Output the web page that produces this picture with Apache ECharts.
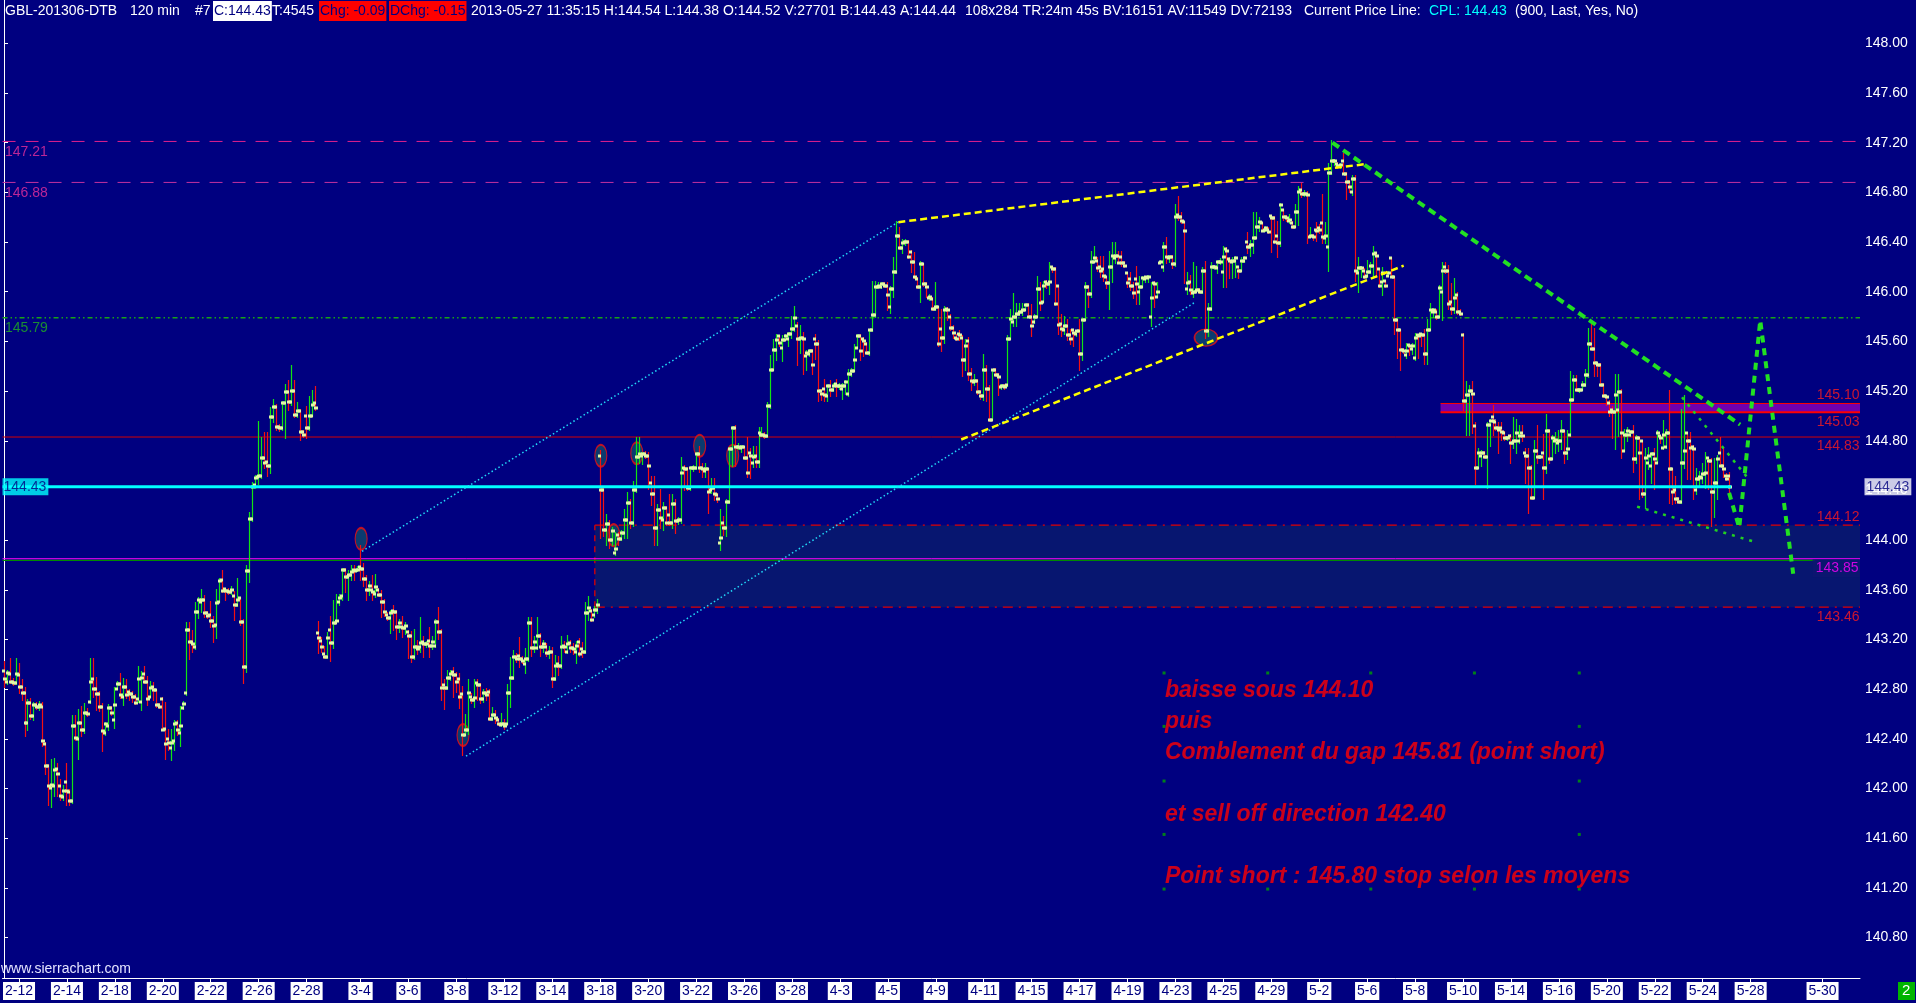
<!DOCTYPE html>
<html><head><meta charset="utf-8">
<script src="https://cdn.jsdelivr.net/npm/echarts@6/dist/echarts.min.js"></script>
<style>html,body{margin:0;padding:0;background:#000080;overflow:hidden}#c{width:1916px;height:1003px}</style>
</head><body><div id="c"></div>
<script>
// ---- price bars: [open, close, low, high], one per 120-min slot ----
const barsFebruary = [
[142.95,142.88,142.82,143.02],[142.86,142.93,142.84,142.95],[142.92,142.86,142.85,143.04],[142.86,142.85,142.83,142.88],
[142.85,142.92,142.84,143.04],[142.91,142.82,142.77,143.00],[142.82,142.77,142.71,142.87],[142.77,142.53,142.42,142.81],
[142.53,142.69,142.47,142.71],[142.69,142.58,142.56,142.72],[142.58,142.67,142.55,142.69],[142.67,142.66,142.64,142.69],
[142.66,142.67,142.63,142.70],[142.66,142.38,142.34,142.69],[142.36,142.18,142.12,142.37],[142.18,142.02,141.87,142.19],
[142.00,142.03,141.85,142.23],[142.02,142.15,141.94,142.24],[142.16,142.12,141.94,142.20],[142.02,141.94,141.91,142.07],
[141.93,141.98,141.91,142.02],[142.05,141.98,141.87,142.20],[141.97,141.90,141.87,141.99],[141.90,142.50,141.88,142.58],
[142.50,142.41,142.39,142.58],[142.40,142.53,142.24,142.63],[142.53,142.47,142.42,142.66],[142.47,142.61,142.45,142.68],
[142.61,142.60,142.58,142.64],[142.70,142.86,142.69,143.04],[142.88,142.80,142.74,143.04],[142.80,142.76,142.63,142.89],
[142.76,142.66,142.62,142.78],[142.66,142.46,142.30,142.68],[142.45,142.52,142.43,142.53],[142.50,142.65,142.47,142.67],
[142.65,142.61,142.59,142.66],[142.55,142.67,142.49,142.81],[142.80,142.84,142.80,142.86],[142.84,142.75,142.73,142.92],
[142.74,142.82,142.67,142.88],[142.82,142.75,142.73,142.87],[142.78,142.76,142.71,142.79],[142.76,142.74,142.70,142.78],
[142.74,142.69,142.68,142.75],[142.72,142.88,142.70,142.98],[142.70,142.89,142.63,142.94],[142.92,142.86,142.85,142.98],
[142.86,142.72,142.67,142.90],[142.74,142.81,142.74,142.86],[142.82,142.79,142.71,142.85],[142.79,142.67,142.66,142.79],
[142.67,142.66,142.65,142.68],[142.72,142.47,142.47,142.73],[142.48,142.36,142.24,142.69],[142.40,142.37,142.31,142.47],
[142.33,142.37,142.23,142.47],[142.38,142.52,142.31,142.54],[142.53,142.47,142.43,142.54],[142.45,142.50,142.34,142.66],
[142.65,142.68,142.64,142.70],[142.77,143.28,142.75,143.33],[143.28,143.18,143.04,143.33],[143.18,143.16,143.10,143.27],
[143.14,143.42,143.12,143.49],[143.42,143.52,143.37,143.53],[143.50,143.52,143.42,143.60],[143.52,143.41,143.38,143.55],
[143.41,143.39,143.37,143.42],[143.40,143.35,143.30,143.50],[143.35,143.31,143.18,143.38],[143.32,143.49,143.21,143.60],
[143.50,143.67,143.50,143.69],[143.68,143.59,143.58,143.75],[143.61,143.59,143.52,143.61],[143.59,143.58,143.57,143.61],
[143.58,143.60,143.57,143.62],[143.55,143.48,143.36,143.58],[143.48,143.52,143.47,143.69],[143.53,143.34,143.32,143.53],
[143.34,142.98,142.85,143.36],[142.98,143.75,142.94,143.79],
[143.75,144.17,143.66,144.22],[144.17,144.43,144.15,144.46],[144.44,144.50,144.42,144.52],[144.51,144.52,144.45,144.95],
[144.52,144.66,144.50,144.82],[144.66,144.62,144.58,144.86],[144.63,144.60,144.52,144.86],[144.60,144.99,144.54,145.06],
[144.99,145.07,144.95,145.13],[145.07,144.91,144.89,145.09],[144.91,144.90,144.88,144.93],[144.90,145.10,144.89,145.11],
[145.10,145.19,144.82,145.25],[145.19,145.11,145.05,145.28],[145.11,145.20,145.09,145.40],[145.20,145.01,144.99,145.28],
[145.01,145.04,144.99,145.10],[145.04,144.87,144.81,145.05],[144.87,144.85,144.83,144.88],[145.00,144.90,144.82,145.07],
[144.90,145.00,144.89,145.15],[145.00,145.09,145.00,145.20],[145.10,145.06,145.05,145.23]
];
const barsEarlyMarch = [
[143.25,143.21,143.09,143.34],[143.19,143.14,143.10,143.21],[143.08,143.06,143.05,143.14],[143.06,143.21,143.05,143.25],
[143.28,143.17,143.03,143.38],[143.17,143.33,143.13,143.51],[143.33,143.35,143.33,143.56],[143.50,143.53,143.48,143.56],
[143.55,143.76,143.52,143.77],[143.76,143.70,143.58,143.77],[143.70,143.72,143.52,143.75],[143.72,143.74,143.68,143.79],
[143.76,143.75,143.68,143.79],[143.76,143.76,143.75,143.78],[143.78,143.77,143.68,143.95],[143.77,143.69,143.63,143.81],
[143.69,143.60,143.52,143.71],[143.60,143.63,143.56,143.66],[143.60,143.58,143.52,143.71],[143.57,143.62,143.54,143.72],
[143.60,143.56,143.55,143.61],[143.56,143.50,143.38,143.59],[143.50,143.42,143.39,143.52],[143.40,143.37,143.36,143.41],
[143.37,143.41,143.25,143.43],[143.43,143.42,143.28,143.47],[143.42,143.30,143.20,143.43],[143.30,143.33,143.26,143.36],
[143.30,143.29,143.22,143.38],[143.29,143.31,143.24,143.33],[143.26,143.23,143.05,143.27],[143.23,143.06,143.02,143.26],
[143.06,143.14,143.04,143.28],[143.14,143.12,143.08,143.19],[143.14,143.17,143.10,143.37],[143.18,143.16,143.06,143.22],
[143.16,143.16,143.14,143.18],[143.19,143.15,143.06,143.29],[143.15,143.18,143.12,143.22],[143.15,143.34,143.14,143.36],
[143.34,143.26,143.20,143.45],[143.26,142.81,142.71,143.28],[142.83,142.81,142.64,142.87],[142.81,142.89,142.80,142.95],
[142.89,142.92,142.87,142.95],[142.94,142.91,142.74,142.97],[142.91,142.86,142.78,142.93],[142.88,142.74,142.65,142.92],
[142.76,142.43,142.27,142.82],[142.43,142.47,142.43,142.59],[142.47,142.77,142.44,142.87],[142.74,142.71,142.69,142.76],
[142.71,142.73,142.66,142.87],[142.85,142.83,142.71,142.87],[142.83,142.72,142.69,142.84],[142.72,142.77,142.70,142.79],
[142.77,142.75,142.71,142.80],[142.78,142.56,142.55,142.79],[142.56,142.59,142.55,142.65],[142.59,142.57,142.53,142.62],
[142.55,142.52,142.51,142.56],[142.51,142.52,142.50,142.60],[142.52,142.50,142.48,142.55],[142.52,142.77,142.52,142.83],
[142.77,142.89,142.66,143.05],[142.89,143.06,142.88,143.11],[143.06,143.04,143.02,143.08],[143.07,143.04,142.98,143.21],
[143.04,143.03,143.01,143.06],[143.00,143.04,142.93,143.12],[143.04,143.33,143.03,143.37],[143.33,143.13,143.07,143.37],
[143.13,143.18,143.10,143.22],[143.13,143.23,143.12,143.37],[143.23,143.14,143.07,143.24],[143.14,143.16,143.10,143.19],
[143.14,143.09,143.07,143.16],[143.09,143.10,143.05,143.14],[143.10,142.88,142.82,143.13],[142.88,142.99,142.87,143.07],
[143.00,142.99,142.91,143.06],[142.99,143.14,142.97,143.22],[143.15,143.14,143.10,143.18],[143.10,143.16,143.09,143.23],
[143.17,143.13,143.10,143.19],[143.13,143.12,143.08,143.16],[143.10,143.15,143.01,143.18],[143.18,143.08,143.07,143.20],
[143.12,143.10,143.06,143.17],[143.10,143.41,143.09,143.49],[143.41,143.45,143.36,143.54],[143.43,143.36,143.35,143.44],
[143.40,143.44,143.38,143.46],[143.44,143.48,143.41,143.52]
];
const barsLateMarch = [
[144.68,144.40,144.02,144.72],[144.40,144.08,144.03,144.42],[144.08,144.13,143.96,144.20],[144.13,144.00,143.94,144.15],
[144.00,144.07,143.96,144.10],[143.90,143.93,143.88,144.06],[144.04,144.01,143.96,144.06],[144.01,144.06,144.00,144.07],
[144.06,144.16,144.02,144.24],[144.16,144.30,144.02,144.38],[144.30,144.14,144.10,144.32],[144.14,144.40,144.11,144.47],
[144.40,144.67,144.39,144.82],[144.67,144.69,144.62,144.82],[144.68,144.69,144.61,144.70],[144.69,144.68,144.66,144.71],
[144.68,144.60,144.41,144.70],[144.46,144.37,144.28,144.51],[144.37,144.10,143.96,144.51],[144.10,144.24,143.96,144.28],
[144.24,144.18,144.10,144.40],[144.16,144.26,144.08,144.30],[144.26,144.14,144.12,144.27],[144.20,144.14,144.12,144.36],
[144.14,144.29,144.10,144.36],[144.29,144.15,144.06,144.32],[144.15,144.16,144.13,144.18],[144.16,144.54,144.14,144.66],
[144.58,144.57,144.40,144.60],[144.57,144.42,144.40,144.58],[144.42,144.58,144.40,144.59],[144.58,144.58,144.56,144.60],
[144.58,144.69,144.57,144.70],[144.69,144.58,144.55,144.75],[144.58,144.57,144.51,144.61],[144.56,144.57,144.51,144.61],
[144.57,144.39,144.22,144.57],[144.40,144.42,144.38,144.49],[144.42,144.37,144.32,144.49],[144.36,144.33,144.31,144.37],
[143.98,144.02,143.92,144.24],[144.14,144.10,144.04,144.19],[144.10,144.31,144.03,144.32],[144.31,144.73,144.30,144.74],
[144.73,144.90,144.60,144.91],[144.90,144.75,144.60,144.92],[144.75,144.75,144.73,144.77],[144.74,144.75,144.71,144.76],
[144.75,144.66,144.65,144.75],[144.66,144.54,144.51,144.82],[144.70,144.68,144.50,144.73],[144.62,144.67,144.59,144.75],
[144.68,144.63,144.59,144.75],[144.63,144.86,144.59,144.90],[144.85,144.85,144.84,144.90],[144.85,144.84,144.82,144.86],
[144.84,145.08,144.83,145.10],[145.08,145.37,145.06,145.48],[145.37,145.53,145.37,145.61],[145.53,145.61,145.45,145.65],
[145.64,145.59,145.56,145.64],[145.55,145.61,145.44,145.64],[145.61,145.64,145.61,145.65],[145.62,145.66,145.56,145.67],
[145.66,145.70,145.63,145.80],[145.70,145.79,145.68,145.88],[145.72,145.62,145.41,145.75],[145.62,145.63,145.51,145.72],
[145.63,145.62,145.34,145.67],[145.48,145.51,145.37,145.52],[145.50,145.52,145.48,145.53],[145.52,145.41,145.34,145.53],
[145.62,145.58,145.46,145.65],[145.58,145.20,145.12,145.60],[145.20,145.18,145.13,145.21],[145.22,145.17,145.12,145.29],
[145.16,145.24,145.12,145.25],[145.24,145.21,145.16,145.28],[145.21,145.24,145.20,145.26],[145.26,145.24,145.16,145.29],
[145.24,145.24,145.22,145.26],[145.22,145.24,145.14,145.26],[145.24,145.27,145.18,145.28],[145.18,145.34,145.16,145.37],
[145.34,145.36,145.32,145.38],[145.36,145.45,145.36,145.57],[145.55,145.64,145.55,145.65],[145.64,145.52,145.45,145.65],
[145.62,145.60,145.48,145.63],[145.58,145.51,145.50,145.59],[145.51,145.69,145.49,145.69],[145.69,145.81,145.68,146.08],
[145.81,146.04,145.80,146.08],[146.04,146.05,146.03,146.07],[146.04,146.06,146.03,146.07],[146.06,146.05,146.04,146.07],
[146.05,145.97,145.85,146.07],[145.88,146.02,145.83,146.04],[146.02,146.16,145.96,146.27],[146.16,146.45,146.15,146.56],
[146.45,146.35,146.34,146.51],[146.35,146.39,146.31,146.42],[146.40,146.40,146.38,146.42],[146.40,146.28,146.27,146.41],
[146.32,146.24,146.16,146.33],[146.24,146.12,146.11,146.31],[146.10,146.04,146.03,146.11],[146.04,146.22,145.92,146.24],
[146.22,146.06,146.05,146.22],[146.06,146.04,145.96,146.07],[145.95,145.96,145.93,145.97],[145.94,145.86,145.85,145.95],
[145.86,145.88,145.85,146.07],[145.88,145.58,145.56,145.88],[145.70,145.63,145.52,145.85],[145.63,145.85,145.59,145.88],
[145.86,145.85,145.77,145.87],[145.80,145.71,145.69,145.81],[145.71,145.67,145.63,145.72],[145.63,145.62,145.61,145.65],
[145.66,145.65,145.61,145.68],[145.63,145.45,145.32,145.64],[145.45,145.56,145.37,145.61],[145.60,145.34,145.29,145.63],
[145.34,145.28,145.21,145.38],[145.27,145.28,145.25,145.33],[145.28,145.19,145.18,145.29],[145.19,145.16,145.14,145.20],
[145.16,145.37,145.13,145.49],[145.37,145.22,145.12,145.40],[145.22,144.97,144.96,145.24],[144.97,145.37,144.97,145.37],
[145.37,145.33,145.32,145.38],[145.33,145.31,145.17,145.34],[145.23,145.24,145.22,145.25],[145.24,145.23,145.22,145.25],
[145.25,145.62,145.24,145.64]
];
const barsApril = [
[145.62,145.78,145.62,145.85],[145.76,145.80,145.72,145.98],[145.80,145.82,145.72,145.90],[145.82,145.84,145.81,145.90],
[145.84,145.85,145.81,145.90],[145.85,145.89,145.85,145.90],[145.89,145.80,145.80,145.90],[145.80,145.72,145.64,145.89],
[145.76,145.80,145.75,145.81],[145.80,146.02,145.80,146.12],[146.02,145.91,145.85,146.07],[145.92,146.05,145.92,146.08],
[146.08,146.06,146.03,146.09],[146.06,146.08,145.98,146.23],[146.20,146.18,146.16,146.20],[146.18,145.90,145.89,146.19],
[146.05,145.73,145.66,146.05],[145.74,145.70,145.64,145.81],[145.69,145.72,145.66,145.80],[145.72,145.65,145.61,145.77],
[145.65,145.62,145.58,145.69],[145.69,145.67,145.56,145.69],[145.66,145.68,145.64,145.68],[145.68,145.50,145.37,145.77],
[145.50,145.77,145.45,145.78],[145.77,146.04,145.77,146.07],[146.04,145.98,145.88,146.05],[145.98,146.24,145.96,146.32],
[146.24,146.27,146.24,146.36],[146.25,146.19,146.17,146.27],[146.20,146.17,146.12,146.28],[146.18,146.13,146.09,146.28],
[146.12,146.07,146.03,146.12],[146.07,146.20,145.86,146.32],[146.20,146.29,146.08,146.39],[146.27,146.29,146.23,146.39],
[146.29,146.23,146.23,146.32],[146.28,146.23,146.21,146.32],[146.23,146.21,146.20,146.24],[146.15,146.07,146.04,146.15],
[146.10,146.05,146.01,146.15],[146.05,145.99,145.95,146.07],[146.10,146.06,145.90,146.20],[146.00,146.04,145.90,146.12],
[146.04,146.11,146.04,146.12],[146.10,146.12,146.08,146.12],[146.11,146.12,146.08,146.13],[145.80,145.95,145.72,146.07],
[146.07,146.06,145.88,146.08],[145.96,146.00,145.96,146.07],[146.23,146.24,146.23,146.25],[146.20,146.36,146.17,146.39],
[146.36,146.28,146.23,146.43],[146.27,146.28,146.24,146.29],[146.28,146.22,146.19,146.29],[146.22,146.60,146.21,146.70],
[146.62,146.60,146.58,146.76],[146.60,146.57,146.55,146.63],[146.56,146.49,146.07,146.56],[146.02,146.07,145.98,146.15],
[146.08,146.01,145.98,146.13],[145.99,146.00,145.96,146.23],[146.00,146.01,146.00,146.20],[146.01,146.00,145.99,146.02],
[146.00,146.17,145.99,146.19],[146.17,145.68,145.63,146.24],[145.68,145.86,145.64,145.90],[145.86,146.20,145.85,146.23],
[146.20,146.20,146.18,146.21],[146.19,146.24,146.15,146.25],[146.24,146.24,146.22,146.26],[146.16,146.28,146.04,146.36],
[146.34,146.33,146.04,146.35],[146.26,146.25,146.11,146.27],[146.24,146.25,146.11,146.27],[146.25,146.27,146.12,146.28],
[146.20,146.17,146.11,146.20],[146.17,146.25,146.17,146.27],[146.25,146.27,146.24,146.28],[146.40,146.36,146.31,146.47],
[146.36,146.38,146.29,146.41],[146.38,146.43,146.31,146.63],[146.43,146.52,146.43,146.63],[146.52,146.56,146.49,146.59],
[146.55,146.49,146.49,146.55],[146.50,146.51,146.49,146.52],[146.50,146.48,146.47,146.51],[146.61,146.59,146.32,146.61],
[146.59,146.40,146.39,146.60],[146.45,146.39,146.28,146.56],[146.39,146.70,146.37,146.71],[146.66,146.60,146.58,146.66],
[146.60,146.59,146.57,146.61],[146.57,146.58,146.55,146.62],[146.55,146.52,146.51,146.56],[146.52,146.64,146.52,146.70],
[146.64,146.80,146.54,146.84],[146.82,146.79,146.76,146.87],[146.79,146.79,146.77,146.81],[146.79,146.78,146.39,146.80],
[146.44,146.45,146.44,146.51],[146.45,146.44,146.42,146.46],[146.50,146.49,146.41,146.55],[146.51,146.50,146.47,146.54],
[146.55,146.44,146.39,146.78],[146.43,146.45,146.39,146.55],
[146.36,146.96,146.17,147.03],[146.96,147.05,146.95,147.21],[147.05,147.05,147.02,147.06],[147.03,147.01,147.00,147.04],
[147.01,147.02,147.00,147.03],[147.05,146.95,146.95,147.11],[146.95,146.88,146.75,146.96],[146.88,146.84,146.80,146.89],
[146.80,146.91,146.78,146.93],[146.91,146.17,146.09,146.93],[146.15,146.19,146.00,146.27],[146.19,146.19,146.12,146.20],
[146.17,146.12,146.11,146.18],[146.13,146.16,146.12,146.25],[146.16,146.21,146.15,146.23],[146.21,146.30,146.12,146.36],
[146.31,146.29,146.12,146.31],[146.18,146.05,146.04,146.18],[146.08,146.15,145.97,146.19],[146.09,146.05,146.04,146.09],
[146.13,146.15,146.13,146.16],[146.27,146.12,146.12,146.27],[146.12,145.77,145.66,146.12],[145.77,145.69,145.47,145.77],
[145.69,145.53,145.37,145.69],[145.53,145.52,145.51,145.54],[145.49,145.52,145.47,145.58],[145.57,145.56,145.49,145.57],
[145.54,145.56,145.50,145.58],[145.47,145.63,145.45,145.66],[145.65,145.64,145.47,145.65],[145.66,145.65,145.56,145.66],
[145.65,145.50,145.42,145.69],[145.50,145.69,145.42,145.77],[145.69,145.85,145.69,145.90],[145.84,145.85,145.80,145.86],
[145.84,145.80,145.78,145.85],[145.80,146.03,145.80,146.05],[146.00,146.17,145.77,146.23],[146.20,146.17,146.15,146.23],
[146.17,145.90,145.86,146.21],[145.92,145.86,145.82,146.06],[145.86,145.95,145.83,146.10],[145.97,145.84,145.82,145.99],
[145.84,145.82,145.81,145.85]
];
const barsMay = [
[145.65,145.12,145.05,145.66],[145.12,145.17,144.85,145.27],[145.17,145.20,144.85,145.24],[145.20,145.18,144.86,145.27],
[144.92,144.58,144.45,144.94],[144.58,144.70,144.58,144.73],[144.68,144.70,144.60,144.72],[144.70,144.67,144.66,144.71],
[144.67,144.93,144.42,144.94],[144.93,144.96,144.76,144.97],[144.99,144.96,144.85,145.08],[144.95,144.90,144.89,144.96],
[144.90,144.89,144.70,144.94],[144.90,144.87,144.81,144.94],[144.86,144.82,144.81,144.87],[144.82,144.82,144.81,144.83],
[144.84,144.78,144.62,144.85],[144.78,144.80,144.74,144.98],[144.80,144.86,144.70,144.97],[144.80,144.84,144.78,144.92],
[144.86,144.84,144.80,144.92],[144.70,144.68,144.46,144.73],[144.68,144.58,144.22,144.73],[144.58,144.34,144.33,144.60],
[144.34,144.72,144.34,144.80],[144.72,144.67,144.62,144.92],[144.67,144.67,144.66,144.68],[144.70,144.58,144.33,144.85],
[144.58,144.88,144.54,145.01],[144.88,144.65,144.62,144.89],[144.65,144.82,144.65,144.84],[144.80,144.81,144.70,144.86],
[144.78,144.80,144.72,144.88],[144.80,144.88,144.73,144.96],[144.88,144.70,144.62,144.88],[144.70,144.73,144.65,144.88],
[144.85,145.13,144.84,145.35],[145.13,145.29,145.13,145.32],[145.29,145.21,145.20,145.32],[145.21,145.21,145.19,145.22],
[145.21,145.25,145.21,145.27],[145.25,145.33,145.24,145.37],[145.33,145.58,145.31,145.70],[145.58,145.54,145.53,145.76],
[145.54,145.43,145.32,145.70],[145.43,145.41,145.32,145.43],[145.41,145.25,145.24,145.42],[145.25,145.16,145.15,145.26],
[145.16,145.15,145.09,145.16],[145.10,145.03,145.00,145.12],[145.05,145.03,144.82,145.07],[145.03,145.17,144.73,145.33],
[145.05,145.19,144.84,145.33],[145.19,144.86,144.66,145.21],[144.72,144.85,144.72,144.89],[144.85,144.88,144.80,144.90],
[144.85,144.87,144.84,144.88],[144.87,144.65,144.55,144.92],[144.65,144.82,144.62,144.84],[144.82,144.70,144.33,144.82],
[144.80,144.37,144.35,144.80],[144.37,144.66,144.26,144.73],[144.62,144.68,144.57,144.74],[144.60,144.69,144.46,144.70],
[144.69,144.65,144.41,144.73],[144.62,144.86,144.62,144.88],[144.84,144.82,144.78,144.84],[144.74,144.85,144.73,144.96],
[144.75,144.86,144.74,144.89],[144.86,144.57,144.30,145.20],[144.57,144.39,144.29,144.57],[144.40,144.33,144.30,144.51],
[144.33,144.31,144.30,144.34],[144.31,144.62,144.30,145.05],[144.62,144.72,144.58,145.16],[144.86,144.80,144.49,144.86],
[144.80,144.74,144.49,144.86],[144.75,144.73,144.33,144.76],[144.40,144.49,144.37,144.57],[144.49,144.51,144.43,144.55],
[144.50,144.53,144.46,144.61],[144.53,144.54,144.42,144.70],[144.66,144.64,144.41,144.66],[144.64,144.39,144.11,144.65],
[144.39,144.46,144.19,144.65],[144.46,144.65,144.33,144.68],[144.70,144.60,144.60,144.82],[144.60,144.57,144.51,144.73],
[144.52,144.49,144.48,144.53],[144.52,144.43,144.38,144.54]
];

// ---- axis ticks ----
const dateLabels = ['2-12','2-14','2-18','2-20','2-22','2-26','2-28','3-4','3-6','3-8','3-12','3-14','3-18','3-20','3-22','3-26','3-28','4-3','4-5','4-9','4-11','4-15','4-17','4-19','4-23','4-25','4-29','5-2','5-6','5-8','5-10','5-14','5-16','5-20','5-22','5-24','5-28','5-30'];
const dateSlots = [5,21,37,53,69,85,101,119,135,151,167,183,199,215,231,247,263,279,295,311,327,343,359,375,391,407,423,439,455,471,487,503,519,535,551,567,583,607];
const priceTicks = [140.8,141.2,141.6,142.0,142.4,142.8,143.2,143.6,144.0,144.4,144.8,145.2,145.6,146.0,146.4,146.8,147.2,147.6,148.0];

// ---- drawn levels / tools ----
const pinkLevels = [147.21, 146.88];
const gapLevel = 145.79;
const purpleBand = [145.10, 145.03];
const redLevel = 144.83;
const currentPrice = 144.43;
const gapBox = [144.12, 143.46];
const magentaLevel = 143.85;
const gapBoxStartSlot = 197.2;
const bandStartSlot = 479.5;
const lastSlot = 576;

const cyanTrendUpper = [[119.5,143.91],[298.4,146.56]];
const cyanTrendLower = [[154.2,142.26],[397.2,145.91]];
const yellowTrendUpper = [[298.5,146.56],[455.1,147.03]];
const yellowTrendLower = [[319.5,144.81],[467.2,146.21]];
const greenTrendDown = [[443.4,147.20],[579.5,144.93]];
const greenProjection = [[575.8,144.38],[579.2,144.10],[586.2,145.77],[597.2,143.73]];
const greenWedgeUpper = [[560.1,145.15],[581.7,144.51]];
const greenWedgeLower = [[545.1,144.27],[583.8,143.99]];
const gapMarkers = [[119.2,144.01],[153.2,142.43],[199.2,144.68],[203.5,144.04],[211.2,144.70],[232.2,144.76],[243.2,144.68],[401.2,145.63]];

const noteLines = ['baisse sous 144.10','puis','Comblement du gap 145.81 (point short)','et sell off direction 142.40','Point short : 145.80 stop selon les moyens'];
const notePrices = [142.79,142.54,142.29,141.79,141.29];
const noteSlot = 387.5;
const handleSlots = [387.2,421.8,456.2,490.8,525.8];
const handlePrices = [142.93,142.50,142.06,141.63,141.19];

// ---- build ----
const bars = [].concat(barsFebruary, barsEarlyMarch, barsLateMarch, barsApril, barsMay);
const candleData = bars.map((b,i)=>[i,b[0],b[1],b[2],b[3]]);
const X0 = -0.5, X1 = 619.5;
const FONT = '"Liberation Sans", Arial, sans-serif';

function seg(data, color, width, type, z){
  return {type:'line', data:data, symbol:'none', silent:true, z:z||3, animation:false,
    lineStyle:{color:color, width:width, type:type||'solid'}};
}
function rectSeries(box, fill, z){
  return {type:'custom', silent:true, z:z, data:[box], animation:false,
    renderItem:function(p, api){
      const a = api.coord([api.value(0), api.value(2)]), b = api.coord([api.value(1), api.value(3)]);
      return {type:'rect', shape:{x:a[0], y:a[1], width:b[0]-a[0], height:b[1]-a[1]}, style:{fill:fill}};
    }};
}

const handles = [];
handleSlots.forEach(s=>{handles.push([s,handlePrices[0]]);handles.push([s,handlePrices[4]]);});
[1,2,3].forEach(k=>{handles.push([handleSlots[0],handlePrices[k]]);handles.push([handleSlots[4],handlePrices[k]]);});

function lab(x,y,text,o){ return {value:[x,y], label:Object.assign({show:true, formatter:text}, o)}; }
const redTxt = '#ff1c1c';
const levelLabelData = [
  lab(X0,pinkLevels[0],'147.21',{color:'#e8309c',position:[3,4],align:'left',verticalAlign:'top'}),
  lab(X0,pinkLevels[1],'146.88',{color:'#e8309c',position:[3,4],align:'left',verticalAlign:'top'}),
  lab(X0,gapLevel,'145.79',{color:'#1fb01f',position:[3,4],align:'left',verticalAlign:'top'}),
  lab(X1,purpleBand[0],'145.10',{color:redTxt,position:[0,-1],align:'right',verticalAlign:'bottom'}),
  lab(X1,purpleBand[1],'145.03',{color:redTxt,position:[0,3],align:'right',verticalAlign:'top'}),
  lab(X1,redLevel,'144.83',{color:redTxt,position:[0,3],align:'right',verticalAlign:'top'}),
  lab(X1,gapBox[0],'144.12',{color:redTxt,position:[0,-1],align:'right',verticalAlign:'bottom'}),
  lab(X1,magentaLevel,'143.85',{color:'#ff00ff',backgroundColor:'#0c1670',padding:[2,1,2,3],position:[0,1],align:'right',verticalAlign:'top'}),
  lab(X1,gapBox[1],'143.46',{color:redTxt,position:[0,3],align:'right',verticalAlign:'top'}),
  lab(X0,currentPrice,'144.43',{color:'#000080',backgroundColor:'#00ffff',padding:[2,2,1,1],position:[0.5,0.5],align:'left',verticalAlign:'middle'}),
  lab(X1,currentPrice,'144.43',{color:'#000080',backgroundColor:'#ffffff',padding:[2,2,1,2],position:[5,0.5],align:'left',verticalAlign:'middle'})
];
const noteData = noteLines.map((t,i)=>lab(noteSlot,notePrices[i],t,{position:[0.5,0.5],align:'left',verticalAlign:'middle'}));

const HF = '14px '+FONT;
const chart = echarts.init(document.getElementById('c'), null, {renderer:'canvas'});
chart.setOption({
  backgroundColor:'#000080',
  animation:false,
  grid:{left:0, right:56, top:0, bottom:25, containLabel:false},
  xAxis:{type:'value', min:X0, max:X1,
    axisLine:{show:true, lineStyle:{color:'#ffffff', width:1}},
    splitLine:{show:false},
    axisTick:{show:true, customValues:dateSlots, length:4, lineStyle:{color:'#ffffff'}},
    axisLabel:{show:true, customValues:dateSlots, formatter:v=>dateLabels[dateSlots.indexOf(v)],
      color:'#000080', backgroundColor:'#ffffff', fontFamily:FONT, fontSize:14, padding:[2,2,1,2], margin:4, lineHeight:15}},
  yAxis:{type:'value', position:'right', min:140.474, max:148.349,
    axisLine:{show:true, lineStyle:{color:'#ffffff', width:1}},
    splitLine:{show:false},
    axisTick:{show:true, customValues:priceTicks, length:4, lineStyle:{color:'#ffffff'}},
    axisLabel:{show:true, customValues:priceTicks, formatter:v=>v.toFixed(2), color:'#ffffff', fontFamily:FONT, fontSize:14, margin:5}},
  series:[
    rectSeries([gapBoxStartSlot, X1, gapBox[0], gapBox[1]], '#071670', 1),
    rectSeries([bandStartSlot, X1, purpleBand[0], purpleBand[1]], '#7000b0', 1),
    seg([[X0,pinkLevels[0]],[X1,pinkLevels[0]]], '#e0208c', 1, [13,10]),
    seg([[X0,pinkLevels[1]],[X1,pinkLevels[1]]], '#c2309e', 1, [13,10]),
    seg([[X0,gapLevel],[X1,gapLevel]], '#17a317', 1.5, [5,3,1.5,3,1.5,3]),
    seg([[bandStartSlot,purpleBand[0]],[X1,purpleBand[0]]], '#ff0000', 1),
    seg([[bandStartSlot,purpleBand[1]],[X1,purpleBand[1]]], '#ff0000', 2),
    seg([[X0,redLevel],[X1,redLevel]], '#d40000', 1),
    seg([[gapBoxStartSlot,gapBox[0]],[X1,gapBox[0]]], '#e00000', 1.3, [10,6,2,6]),
    seg([[gapBoxStartSlot,gapBox[1]],[X1,gapBox[1]]], '#e00000', 1.3, [10,6,2,6]),
    seg([[gapBoxStartSlot,gapBox[1]],[gapBoxStartSlot,gapBox[0]]], '#e00000', 1.3, [6,5]),
    seg([[X0,magentaLevel-0.013],[604.5,magentaLevel-0.013]], '#008a00', 1.2),
    seg([[X0,magentaLevel],[X1,magentaLevel]], '#ff00ff', 1),
    {type:'scatter', data:gapMarkers, symbol:'circle', silent:true, z:4, animation:false,
      symbolSize:function(v){ return v[0] > 400 ? [23,17] : [12,22]; },
      itemStyle:{color:'#0d4a6c', borderColor:'#ee1010', borderWidth:1.5}},
    {type:'custom', data:candleData, z:5, silent:true, animation:false, encode:{x:0, y:[1,2,3,4]},
      renderItem:function(params, api){
        const s=api.value(0), o=api.value(1), c=api.value(2), l=api.value(3), h=api.value(4);
        const pH=api.coord([s,h]), pL=api.coord([s,l]), pO=api.coord([s,o]), pC=api.coord([s,c]);
        const x=Math.round(pH[0]-0.5)+0.5;
        const yO=Math.round(pO[1]), yC=Math.round(pC[1]);
        return {type:'group', children:[
          {type:'line', shape:{x1:x,y1:Math.round(pH[1])-1,x2:x,y2:Math.round(pL[1])+1}, style:{stroke: c>=o ? '#12e412' : '#f41010', lineWidth:1.2}},
          {type:'rect', shape:{x:x-2.5,y:yO-1.5,width:3,height:3}, style:{fill:'#e2f8a6'}},
          {type:'rect', shape:{x:x-1.5,y:yC-1.5,width:4,height:3}, style:{fill:'#e2f8a6'}}
        ]};
      }},
    seg([[X0,currentPrice],[lastSlot+0.5,currentPrice]], '#00ffff', 3, 'solid', 6),
    seg(cyanTrendUpper, '#22d8f8', 1.5, [1.5,2.5], 7),
    seg(cyanTrendLower, '#22d8f8', 1.5, [1.5,2.5], 7),
    seg(yellowTrendUpper, '#ffff00', 2.5, [7,4], 7),
    seg(yellowTrendLower, '#ffff00', 2.5, [7,4], 7),
    seg(greenTrendDown, '#22e022', 4, [8,5], 7),
    seg(greenProjection, '#22e022', 4, [7,6], 7),
    seg(greenWedgeUpper, '#22d022', 2.5, [3,6], 7),
    seg(greenWedgeLower, '#22d022', 2.5, [3,6], 7),
    {type:'scatter', data:handles, symbol:'rect', symbolSize:3, silent:true, z:8, animation:false, itemStyle:{color:'#00a000'}},
    {type:'scatter', data:noteData, symbolSize:1, silent:true, z:9, animation:false, clip:false,
      itemStyle:{color:'rgba(0,0,0,0)'},
      label:{show:true, color:'#ff0000', fontFamily:FONT, fontSize:23, fontWeight:'bold', fontStyle:'italic'}},
    {type:'scatter', data:levelLabelData, symbolSize:1, silent:true, z:10, animation:false, clip:false,
      itemStyle:{color:'rgba(0,0,0,0)'},
      label:{show:true, fontFamily:FONT, fontSize:14}}
  ],
  graphic:[
    {type:'text', x:5, y:4, style:{text:'GBL-201306-DTB', fill:'#fff', font:HF}},
    {type:'text', x:130, y:4, style:{text:'120 min', fill:'#fff', font:HF}},
    {type:'text', x:195, y:4, style:{text:'#7', fill:'#fff', font:HF}},
    {type:'text', x:213, y:1, style:{text:'C:144.43', fill:'#000080', font:HF, backgroundColor:'#ffffff', padding:[3,1,3,1]}},
    {type:'text', x:272, y:4, style:{text:'T:4545', fill:'#fff', font:HF}},
    {type:'text', x:319, y:1, style:{text:'Chg: -0.09', fill:'#000080', font:HF, backgroundColor:'#ff0000', padding:[3,1,3,1]}},
    {type:'text', x:389, y:1, style:{text:'DChg: -0.15', fill:'#000080', font:HF, backgroundColor:'#ff0000', padding:[3,1,3,1]}},
    {type:'text', x:471, y:4, style:{text:'2013-05-27 11:35:15 H:144.54 L:144.38 O:144.52 V:27701 B:144.43 A:144.44', fill:'#fff', font:HF}},
    {type:'text', x:965, y:4, style:{text:'108x284 TR:24m 45s BV:16151 AV:11549 DV:72193', fill:'#fff', font:HF}},
    {type:'text', x:1304, y:4, style:{text:'Current Price Line:', fill:'#fff', font:HF}},
    {type:'text', x:1429, y:4, style:{text:'CPL: 144.43', fill:'#00ffff', font:HF}},
    {type:'text', x:1515, y:4, style:{text:'(900, Last, Yes, No)', fill:'#fff', font:HF}},
    {type:'text', x:1, y:962, style:{text:'www.sierrachart.com', fill:'#e4e4ff', font:HF}},
    {type:'rect', shape:{x:1898, y:982, width:17, height:18}, style:{fill:'#00b400'}},
    {type:'text', x:1902, y:983, style:{text:'2', fill:'#ffffff', font:'15px '+FONT}}
  ]
});
</script>
</body></html>
